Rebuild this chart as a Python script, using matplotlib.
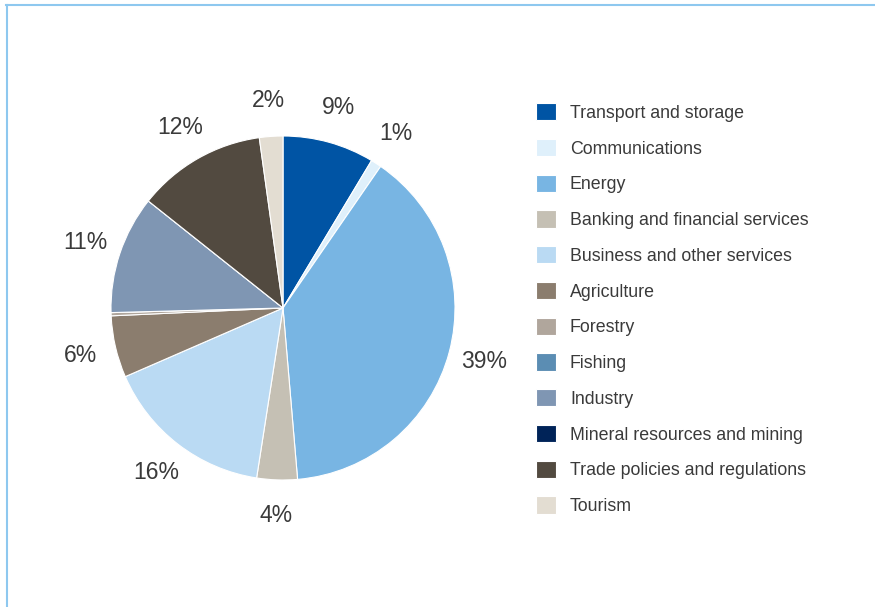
import numpy as np
import matplotlib
matplotlib.use("Agg")
import matplotlib.pyplot as plt
from matplotlib.lines import Line2D

plt.rcParams["font.family"] = ["Liberation Sans", "DejaVu Sans"]

SECTORS = [
    "Transport and storage",
    "Communications",
    "Energy",
    "Banking and financial services",
    "Business and other services",
    "Agriculture",
    "Forestry",
    "Fishing",
    "Industry",
    "Mineral resources and mining",
    "Trade policies and regulations",
    "Tourism",
]
SHARES = [8.6, 1.0, 39.0, 3.8, 16.0, 5.8, 0.3, 0.0, 11.1, 0.0, 12.1, 2.2]
COLORS = [
    "#0054a4", "#dff0fb", "#78b5e3", "#c5c0b4", "#badaf3", "#8b7d6e",
    "#b0a69c", "#5b8db3", "#7f96b3", "#002358", "#524a40", "#e3ddd2",
]
TEXT_COLOR = "#3a3a3a"

W, H = 875, 607
fig = plt.figure(figsize=(W / 100, H / 100), dpi=100)

cx, cy, r = 283, 308, 172
ax = fig.add_axes([(cx - r) / W, (H - cy - r) / H, 2 * r / W, 2 * r / H])
wedges, _ = ax.pie(
    SHARES,
    colors=COLORS,
    startangle=90,
    counterclock=False,
    radius=1,
    wedgeprops={"edgecolor": "white", "linewidth": 0.8},
)
ax.set_xlim(-1, 1)
ax.set_ylim(-1, 1)
ax.set_aspect("equal")
ax.axis("off")

for wedge, share in zip(wedges, SHARES):
    if share < 0.5:
        continue
    mid = np.deg2rad((wedge.theta1 + wedge.theta2) / 2)
    ax.text(
        1.21 * np.cos(mid),
        1.21 * np.sin(mid),
        f"{share:.0f}%",
        ha="center",
        va="center",
        fontsize=16.5,
        color=TEXT_COLOR,
    )

leg = fig.legend(
    wedges,
    SECTORS,
    loc="upper left",
    bbox_to_anchor=(529 / W, 1 - 96 / H),
    frameon=False,
    fontsize=12.8,
    handlelength=1.12,
    handleheight=1.12,
    handletextpad=0.78,
    labelspacing=0.96,
    borderaxespad=0,
)
for t in leg.get_texts():
    t.set_color(TEXT_COLOR)

# thin light-blue frame on the top and left edges
frame_color = "#8ec8ef"
fig.add_artist(Line2D([6 / W, 1], [1 - 4.5 / H, 1 - 4.5 / H],
                      transform=fig.transFigure, color=frame_color, linewidth=1.5))
fig.add_artist(Line2D([6.5 / W, 6.5 / W], [0, 1 - 4.5 / H],
                      transform=fig.transFigure, color=frame_color, linewidth=1.5))

fig.savefig("out.png", dpi=100)
